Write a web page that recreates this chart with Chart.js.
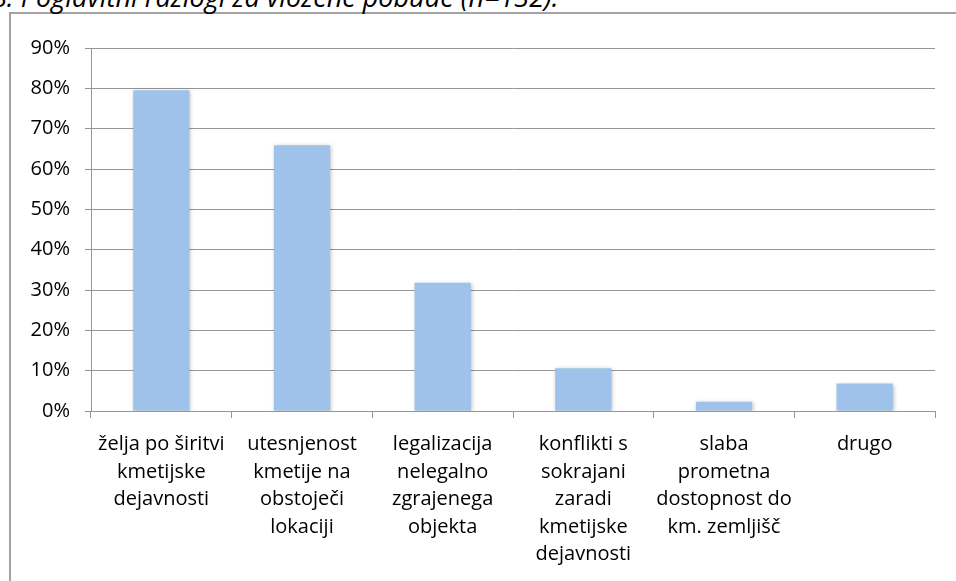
<!DOCTYPE html>
<html>
<head>
<meta charset="utf-8">
<script src="https://cdn.jsdelivr.net/npm/chart.js@4"></script>
<style>
  body { margin: 0; background: #fff; overflow: hidden; }
  #wrap { position: relative; width: 956px; height: 581px; overflow: hidden; }
  #box { position: absolute; left: 9px; top: 12px; width: 1000px; height: 700px;
         border-left: 2px solid #a3a3a3; border-top: 2px solid #a3a3a3; }
  #caption { position: absolute; left: -8px; top: -17px; white-space: nowrap; line-height: 27px;
             font-family: "Open Sans", sans-serif; font-style: italic; font-size: 27px; color: #000; }
  #chartBox { position: absolute; left: 0; top: 0; width: 956px; height: 581px; }
</style>
</head>
<body>
<div id="wrap">
  <div id="box"></div>
  <div id="caption">8: Poglavitni razlogi za vložene pobude (n=132).</div>
  <div id="chartBox"><canvas id="myChart"></canvas></div>
</div>
<script>
var labels = [
  ['želja po širitvi', 'kmetijske', 'dejavnosti'],
  ['utesnjenost', 'kmetije na', 'obstoječi', 'lokaciji'],
  ['legalizacija', 'nelegalno', 'zgrajenega', 'objekta'],
  ['konflikti s', 'sokrajani', 'zaradi', 'kmetijske', 'dejavnosti'],
  ['slaba', 'prometna', 'dostopnost do', 'km. zemljišč'],
  ['drugo']
];
var values = [79.5, 65.9, 31.8, 10.6, 2.3, 6.8]; // % of 132 pobud
var yTicks = [0, 10, 20, 30, 40, 50, 60, 70, 80, 90];

var gridGrey = '#969696';

// soft shadow behind the bars, like the office chart
var barShadow = {
  id: 'barShadow',
  beforeDatasetsDraw: function(chart) {
    var ctx = chart.ctx;
    ctx.save();
    ctx.shadowColor = 'rgba(0,0,0,0.25)';
    ctx.shadowBlur = 4;
    ctx.shadowOffsetX = 1;
    ctx.shadowOffsetY = 1;
  },
  afterDatasetsDraw: function(chart) {
    chart.ctx.restore();
  }
};

var ctx = document.getElementById('myChart').getContext('2d');
var myChart = new Chart(ctx, {
  type: 'bar',
  data: {
    labels: labels,
    datasets: [{
      data: values,
      backgroundColor: '#9ec2e9',
      borderWidth: 0,
      barPercentage: 0.4,
      categoryPercentage: 1
    }]
  },
  options: {
    responsive: true,
    maintainAspectRatio: false,
    animation: false,
    layout: { padding: { top: 48, right: 21, left: 0, bottom: 0 } },
    plugins: {
      legend: { display: false },
      tooltip: { enabled: false }
    },
    scales: {
      x: {
        offset: true,
        afterFit: function(scale) { scale.height = 170; },
        grid: { display: true, drawOnChartArea: false, offset: true, tickLength: 7, color: gridGrey, lineWidth: 1 },
        border: { display: true, color: gridGrey, width: 1 },
        ticks: {
          maxRotation: 0,
          autoSkip: false,
          padding: 13,
          color: '#000',
          font: { family: 'Open Sans', size: 20, lineHeight: 1.375 }
        }
      },
      y: {
        min: 0,
        max: 90,
        afterFit: function(scale) { scale.width = 91; },
        afterBuildTicks: function(scale) {
          scale.ticks = yTicks.map(function(v) { return { value: v }; });
        },
        grid: { color: gridGrey, lineWidth: 1, tickLength: 6 },
        border: { display: true, color: gridGrey, width: 1 },
        ticks: {
          padding: 15,
          color: '#000',
          font: { family: 'Open Sans', size: 20 },
          callback: function(v) { return v + '%'; }
        }
      }
    }
  },
  plugins: [barShadow]
});
</script>
</body>
</html>
